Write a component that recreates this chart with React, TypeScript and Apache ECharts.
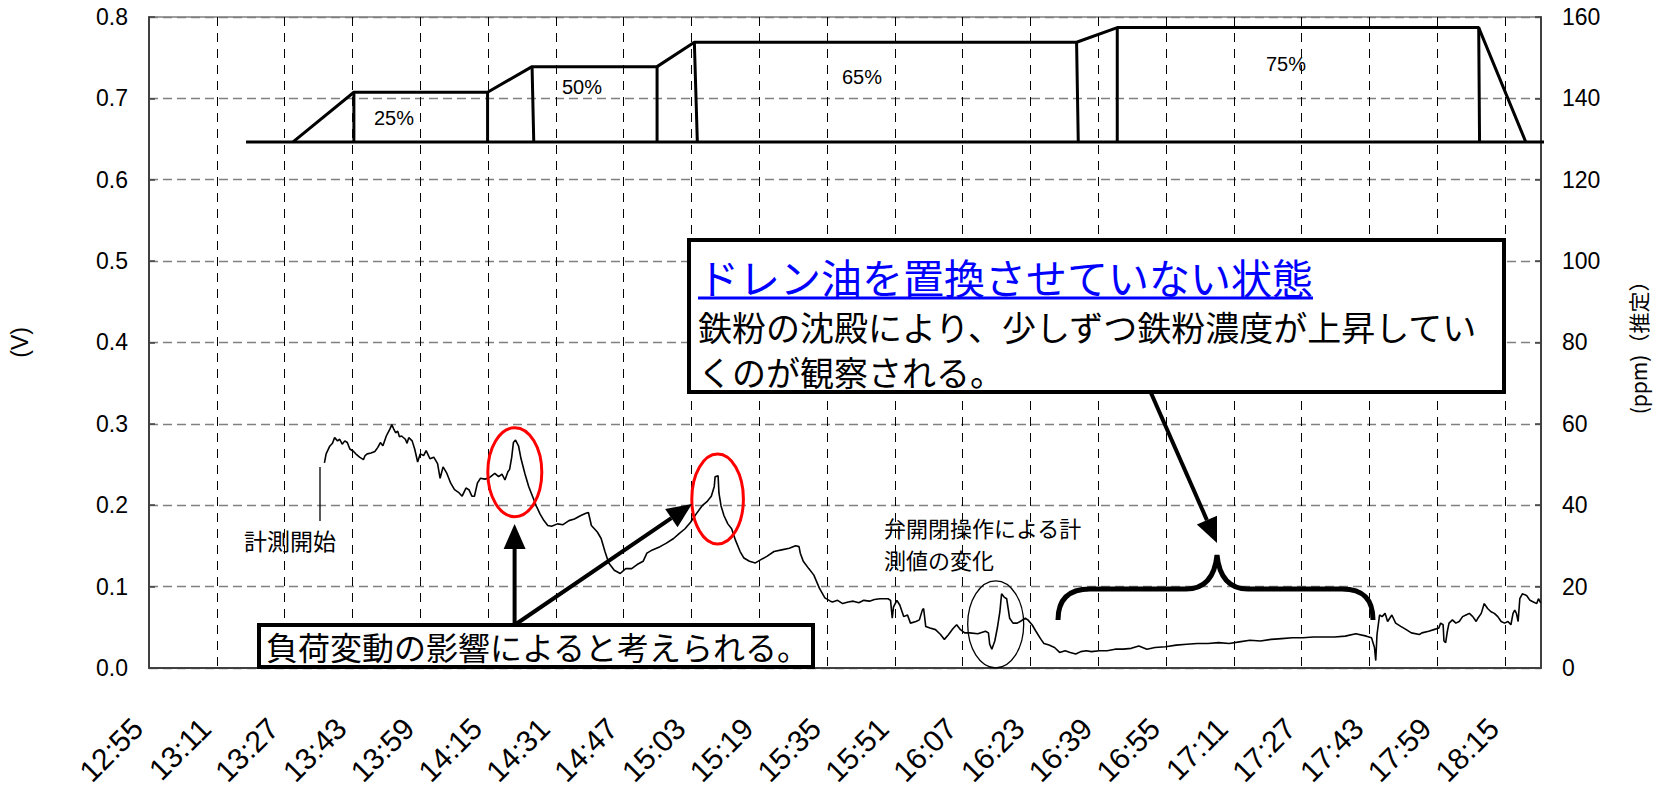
import React, { useEffect, useRef } from "react";
import * as echarts from "echarts";

// x axis: minutes elapsed since 12:55
const xTickLabels = [
  "12:55", "13:11", "13:27", "13:43", "13:59", "14:15", "14:31", "14:47", "15:03", "15:19",
  "15:35", "15:51", "16:07", "16:23", "16:39", "16:55", "17:11", "17:27", "17:43", "17:59", "18:15",
];
const X_STEP = 16;
const X_MAX = 328.5;

// measured voltage (V) : [minutes since 12:55, volts]
const sensorReadings: [number, number][] = [
  [41.4, 0.252], [41.8, 0.263], [42.6, 0.272], [43.3, 0.276], [43.8, 0.283], [44.5, 0.279], [45.0, 0.281],
  [45.6, 0.275], [46.2, 0.279], [46.8, 0.277], [47.4, 0.269], [48.3, 0.266], [49.0, 0.262], [49.7, 0.259],
  [50.6, 0.256], [51.0, 0.261], [51.5, 0.263], [52.4, 0.264], [53.3, 0.266], [54.0, 0.271], [54.6, 0.277],
  [55.2, 0.273], [56.0, 0.285], [56.9, 0.294], [57.3, 0.299], [57.8, 0.293], [58.2, 0.289], [58.7, 0.291],
  [59.1, 0.284], [59.6, 0.285], [60.5, 0.281], [60.9, 0.276], [61.3, 0.283], [62.1, 0.279], [62.7, 0.269],
  [63.4, 0.253], [64.0, 0.263], [64.8, 0.261], [65.4, 0.267], [66.3, 0.257], [67.2, 0.259], [68.1, 0.251],
  [68.7, 0.233], [69.4, 0.247], [70.3, 0.239], [71.2, 0.227], [72.1, 0.219], [73.2, 0.215], [73.9, 0.211],
  [74.8, 0.221], [75.5, 0.219], [76.2, 0.211], [76.8, 0.211], [77.5, 0.227], [78.2, 0.233], [79.3, 0.232],
  [80.4, 0.234], [81.6, 0.239], [82.5, 0.235], [83.3, 0.238], [84.0, 0.231], [84.7, 0.241], [85.1, 0.244],
  [85.6, 0.259], [86.0, 0.277], [86.5, 0.28], [87.2, 0.273], [87.8, 0.257], [88.7, 0.239], [89.6, 0.223],
  [90.5, 0.211], [91.4, 0.199], [92.3, 0.189], [93.2, 0.181], [94.1, 0.175], [95.0, 0.174], [96.4, 0.177],
  [97.7, 0.176], [99.1, 0.181], [100.4, 0.183], [101.8, 0.187], [103.1, 0.19], [103.7, 0.191], [104.4, 0.175],
  [105.8, 0.167], [106.7, 0.159], [107.6, 0.143], [108.5, 0.129], [109.8, 0.12], [111.2, 0.116], [112.5, 0.122],
  [113.9, 0.122], [115.2, 0.127], [116.6, 0.131], [117.5, 0.141], [118.8, 0.145], [120.6, 0.149], [122.0, 0.153],
  [123.8, 0.159], [125.1, 0.165], [126.5, 0.171], [127.8, 0.179], [129.1, 0.189], [130.5, 0.199], [131.8, 0.205],
  [132.7, 0.211], [133.4, 0.223], [133.6, 0.235], [134.3, 0.236], [134.5, 0.215], [135.0, 0.199], [135.7, 0.187],
  [136.6, 0.177], [137.5, 0.171], [138.4, 0.157], [139.5, 0.143], [140.4, 0.135], [141.7, 0.131], [143.1, 0.129],
  [144.4, 0.133], [145.8, 0.137], [147.5, 0.143], [149.3, 0.145], [151.1, 0.147], [152.6, 0.15], [153.4, 0.149],
  [153.7, 0.141], [154.4, 0.131], [155.7, 0.122], [156.9, 0.114], [158.2, 0.098], [159.5, 0.086], [160.8, 0.082],
  [161.3, 0.081], [162.5, 0.083], [163.7, 0.079], [165.0, 0.081], [166.2, 0.082], [167.5, 0.08], [168.7, 0.083],
  [170.0, 0.082], [171.2, 0.084], [172.5, 0.085], [174.4, 0.085], [175.0, 0.083], [175.4, 0.061], [175.7, 0.075],
  [176.5, 0.083], [177.2, 0.077], [178.1, 0.063], [179.0, 0.065], [179.7, 0.055], [181.0, 0.057], [181.8, 0.059],
  [182.5, 0.071], [182.8, 0.073], [183.3, 0.051], [184.3, 0.049], [185.6, 0.047], [186.8, 0.041], [187.7, 0.035],
  [188.7, 0.041], [189.7, 0.048], [190.6, 0.053], [191.5, 0.047], [192.5, 0.043], [193.7, 0.043], [195.6, 0.042],
  [197.4, 0.045], [198.1, 0.043], [198.4, 0.029], [198.9, 0.023], [199.6, 0.033], [200.2, 0.049], [200.8, 0.069],
  [201.2, 0.091], [201.8, 0.087], [202.4, 0.085], [203.1, 0.061], [203.9, 0.055], [204.9, 0.055], [205.9, 0.058],
  [206.8, 0.061], [207.4, 0.059], [208.4, 0.053], [209.3, 0.045], [210.5, 0.035], [211.2, 0.03], [212.4, 0.028],
  [213.7, 0.025], [214.9, 0.019], [216.2, 0.021], [217.4, 0.019], [218.7, 0.017], [219.9, 0.02], [221.2, 0.021],
  [222.4, 0.02], [224.3, 0.021], [226.1, 0.021], [228.0, 0.023], [229.9, 0.023], [231.8, 0.024], [233.6, 0.027],
  [235.5, 0.023], [237.4, 0.025], [239.9, 0.026], [242.4, 0.028], [244.9, 0.029], [247.4, 0.03], [249.9, 0.03],
  [252.4, 0.031], [254.9, 0.03], [257.3, 0.032], [259.8, 0.034], [262.3, 0.033], [264.8, 0.035], [267.3, 0.036],
  [269.8, 0.037], [272.3, 0.037], [274.8, 0.038], [277.3, 0.038], [279.8, 0.038], [282.3, 0.039], [284.8, 0.042],
  [287.3, 0.039], [288.5, 0.037], [289.2, 0.025], [289.5, 0.009], [289.8, 0.041], [290.4, 0.065], [291.0, 0.063],
  [291.7, 0.067], [292.3, 0.057], [293.3, 0.065], [294.2, 0.055], [295.4, 0.051], [296.7, 0.047], [297.9, 0.043],
  [299.8, 0.041], [300.4, 0.043], [302.0, 0.045], [303.2, 0.047], [304.4, 0.049], [304.8, 0.055], [305.4, 0.053],
  [305.6, 0.033], [306.0, 0.031], [306.4, 0.045], [306.8, 0.055], [307.6, 0.059], [308.4, 0.055], [309.2, 0.057],
  [310.0, 0.063], [310.8, 0.065], [311.6, 0.067], [312.4, 0.063], [313.2, 0.057], [313.6, 0.061], [314.4, 0.067],
  [315.1, 0.079], [315.9, 0.073], [316.7, 0.069], [317.5, 0.067], [318.3, 0.063], [319.1, 0.057], [319.9, 0.055],
  [320.7, 0.057], [321.4, 0.053], [321.9, 0.067], [322.3, 0.071], [322.7, 0.067], [323.1, 0.057], [323.5, 0.085],
  [324.1, 0.091], [325.1, 0.089], [325.9, 0.083], [326.7, 0.081], [327.5, 0.079], [327.9, 0.085], [328.3, 0.081],
  [328.5, 0.08],
];

// load pattern drawn in the upper part (in V units of the left axis)
const loadBaseline: [number, number][] = [[22.9, 0.6465], [329.6, 0.6465]];
const loadOutline: [number, number][] = [
  [34.0, 0.6465], [48.35, 0.7075], [79.9, 0.7075], [90.4, 0.739], [119.9, 0.739],
  [128.7, 0.769], [218.9, 0.769], [228.5, 0.787], [313.8, 0.787], [324.9, 0.6465],
];
// vertical step edges: [t top, v top, t bottom, v bottom]
const loadSteps: [number, number, number, number][] = [
  [48.35, 0.7075, 48.35, 0.6465], [79.9, 0.7075, 79.9, 0.6465], [90.4, 0.739, 90.8, 0.6465],
  [119.9, 0.739, 119.9, 0.6465], [128.7, 0.769, 129.4, 0.6465], [218.9, 0.769, 219.3, 0.6465],
  [228.5, 0.787, 228.5, 0.6465], [313.8, 0.787, 314.0, 0.6465],
];

const FONT_LATIN = "'Liberation Sans', Arial, sans-serif";
const FONT_JP = "'Noto Sans CJK JP', 'Noto Sans', sans-serif";

const BRACE_D =
  "M1058,620 C1058,600 1068,589 1090,589 L1186,589 C1206,589 1215,575 1217,555 " +
  "C1219,575 1228,589 1248,589 L1342,589 C1364,589 1373,600 1373,620";

let braceRegistered = false;
function ensureBrace() {
  if (braceRegistered) return;
  echarts.graphic.registerShape("brace", echarts.graphic.extendPath(BRACE_D, {}) as any);
  braceRegistered = true;
}

function arrow(x1: number, y1: number, x2: number, y2: number, lw = 4, hl = 25, hw = 11) {
  const dx = x2 - x1;
  const dy = y2 - y1;
  const len = Math.hypot(dx, dy);
  const ux = dx / len;
  const uy = dy / len;
  const bx = x2 - ux * hl;
  const by = y2 - uy * hl;
  const nx = -uy;
  const ny = ux;
  return [
    { type: "line", z: 100, shape: { x1, y1, x2: bx, y2: by }, style: { stroke: "#000", lineWidth: lw } },
    {
      type: "polygon", z: 100,
      shape: { points: [[x2, y2], [bx + nx * hw, by + ny * hw], [bx - nx * hw, by - ny * hw]] },
      style: { fill: "#000" },
    },
  ];
}

function txt(x: number, y: number, text: string, fontSize: number, fontFamily: string, fill = "#000", align = "left") {
  return {
    type: "text", z: 102, x, y,
    style: { text, fontSize, fontFamily, fill, align, verticalAlign: "middle", lineHeight: fontSize },
  };
}

export default function App() {
  const ref = useRef<HTMLDivElement>(null);

  useEffect(() => {
    if (!ref.current) return;
    ensureBrace();
    const chart = echarts.init(ref.current, null, { renderer: "svg" });

    const stepData: any[] = [];
    loadSteps.forEach(([t1, v1, t2, v2]) => {
      stepData.push([t1, v1], [t2, v2], ["-", "-"]);
    });

    const option: any = {
      animation: false,
      backgroundColor: "#fff",
      grid: { left: 143, top: 17, right: 111, bottom: 112, show: true, borderColor: "#808080", borderWidth: 1.5, backgroundColor: "#fff" },
      xAxis: {
        type: "value", min: 0, max: X_MAX, interval: X_STEP,
        axisLine: { show: true, onZero: false, lineStyle: { color: "#404040", width: 2 } },
        axisTick: { show: false },
        splitLine: { show: true, lineStyle: { color: "#000", width: 1, type: [9, 7] } },
        axisLabel: {
          rotate: 45, margin: 44, padding: [0, 16, 0, 0], fontSize: 30, fontFamily: FONT_LATIN, color: "#000",
          showMinLabel: true, showMaxLabel: false,
          formatter: (v: number) => {
            const i = Math.round(v / X_STEP);
            return Math.abs(v - i * X_STEP) < 1e-6 && xTickLabels[i] ? xTickLabels[i] : "";
          },
        },
      },
      yAxis: [
        {
          type: "value", min: 0, max: 0.8, interval: 0.1, position: "left",
          name: "(V)", nameLocation: "middle", nameGap: 118, nameRotate: 90,
          nameTextStyle: { fontSize: 23, fontFamily: FONT_LATIN, color: "#000" },
          axisLine: { show: true, lineStyle: { color: "#404040", width: 2 } },
          axisTick: { show: true, inside: true, length: 6, lineStyle: { color: "#404040", width: 1.5 } },
          axisLabel: { formatter: (v: number) => v.toFixed(1), fontSize: 23, fontFamily: FONT_LATIN, color: "#000", margin: 21 },
          splitLine: { show: true, lineStyle: { color: "#808080", width: 1.3, type: [9, 5] } },
        },
        {
          type: "value", min: 0, max: 160, interval: 20, position: "right",
          name: "(ppm)（推定）", nameLocation: "middle", nameGap: 86, nameRotate: 90,
          nameTextStyle: { fontSize: 21, fontFamily: FONT_JP, color: "#000" },
          axisLine: { show: true, lineStyle: { color: "#404040", width: 2 } },
          axisTick: { show: true, inside: true, length: 6, lineStyle: { color: "#404040", width: 1.5 } },
          axisLabel: { fontSize: 23, fontFamily: FONT_LATIN, color: "#000", margin: 21 },
          splitLine: { show: false },
        },
      ],
      series: [
        {
          name: "負荷 基線", type: "line", data: loadBaseline, symbol: "none", clip: false,
          lineStyle: { color: "#000", width: 3 }, z: 4,
        },
        {
          name: "負荷", type: "line", data: loadOutline, symbol: "none",
          lineStyle: { color: "#000", width: 3 }, z: 4,
        },
        {
          name: "負荷 段", type: "line", data: stepData, symbol: "none", connectNulls: false,
          lineStyle: { color: "#000", width: 3 }, z: 4,
        },
        {
          name: "計測値", type: "line", data: sensorReadings, symbol: "none",
          lineStyle: { color: "#000", width: 1.6 }, z: 3,
        },
      ],
      graphic: [
        txt(394, 118, "25%", 20, FONT_LATIN, "#000", "center"),
        txt(582, 87, "50%", 20, FONT_LATIN, "#000", "center"),
        txt(862, 77, "65%", 20, FONT_LATIN, "#000", "center"),
        txt(1286, 64, "75%", 20, FONT_LATIN, "#000", "center"),
        // 計測開始
        { type: "line", z: 100, shape: { x1: 320, y1: 521, x2: 320, y2: 467 }, style: { stroke: "#000", lineWidth: 1.3 } },
        txt(244, 540, "計測開始", 23, FONT_JP),
        // valve annotation
        {
          type: "text", z: 102, x: 884, y: 511,
          style: {
            text: "弁開閉操作による計\n測値の変化", fontSize: 22, fontFamily: FONT_JP, fill: "#000",
            align: "left", verticalAlign: "top", lineHeight: 32,
          },
        },
        {
          type: "ellipse", z: 100, shape: { cx: 995.7, cy: 624.3, rx: 28, ry: 43.5 },
          style: { fill: "none", stroke: "#000", lineWidth: 1.3 },
        },
        // red ellipses
        {
          type: "ellipse", z: 100, shape: { cx: 514.8, cy: 472.2, rx: 27, ry: 44.5 },
          style: { fill: "none", stroke: "#ff0000", lineWidth: 3 },
        },
        {
          type: "ellipse", z: 100, shape: { cx: 717.6, cy: 499, rx: 25.8, ry: 45 },
          style: { fill: "none", stroke: "#ff0000", lineWidth: 3 },
        },
        // arrows
        ...arrow(514.6, 625, 514.6, 524),
        ...arrow(514.6, 625, 692, 504),
        ...arrow(1151, 393, 1217, 543),
        // brace
        { type: "brace", z: 100, x: 0, y: 0, style: { fill: "none", stroke: "#000", lineWidth: 5 } },
        // lower box
        {
          type: "rect", z: 101, shape: { x: 259, y: 625, width: 554, height: 42 },
          style: { fill: "#fff", stroke: "#000", lineWidth: 4 },
        },
        txt(266, 646, "負荷変動の影響によると考えられる。", 32, FONT_JP),
        // upper box
        {
          type: "rect", z: 101, shape: { x: 689, y: 240, width: 815, height: 152 },
          style: { fill: "#fff", stroke: "#000", lineWidth: 4 },
        },
        {
          type: "text", z: 102, x: 698, y: 248.5,
          style: {
            text:
              "{t|ドレン油を置換させていない状態}\n{b|鉄粉の沈殿により、少しずつ鉄粉濃度が上昇してい}\n{b|くのが観察される。}",
            fontFamily: FONT_JP, align: "left", verticalAlign: "top",
            rich: {
              t: { fontSize: 41, fontFamily: FONT_JP, fill: "#0000ff", lineHeight: 55 },
              b: { fontSize: 34, fontFamily: FONT_JP, fill: "#000", lineHeight: 45 },
            },
          },
        },
        { type: "line", z: 103, shape: { x1: 698, y1: 298, x2: 1313, y2: 298 }, style: { stroke: "#0000ff", lineWidth: 3 } },
      ],
    };

    chart.setOption(option);
    return () => chart.dispose();
  }, []);

  return (
    <div
      ref={ref}
      style={{ position: "fixed", left: 0, top: 0, width: 1656, height: 789, background: "#fff" }}
    />
  );
}
